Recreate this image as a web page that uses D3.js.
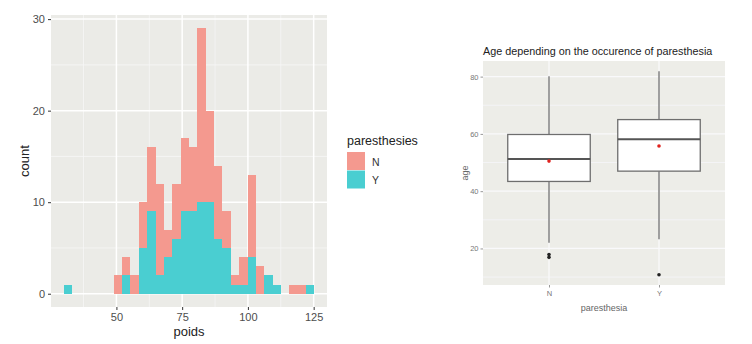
<!DOCTYPE html>
<html>
<head>
<meta charset="utf-8">
<script src="https://cdn.jsdelivr.net/npm/d3@7"></script>
<style>
  html, body { margin: 0; padding: 0; background: #ffffff; }
  svg { display: block; font-family: "Liberation Sans", Arial, sans-serif; }
</style>
</head>
<body>
<svg id="chart" width="752" height="344"></svg>
<script>
// ---------- Histogram data (poids, stacked by paresthesies) ----------
const binStart = 29.9;
const binWidth = 3.18;
const countsN = [0,0,0,0,0,0,2,2,2,5,7,10,3,6,8,7,19,10,8,4,1,3,9,3,0,0,0,1,1,0];
const countsY = [1,0,0,0,0,0,0,2,0,5,9,2,4,6,9,9,10,10,6,5,1,1,4,0,2,1,0,0,0,1];
const histXTicks = [50, 75, 100, 125];
const histYTicks = [0, 10, 20, 30];
const legendTitle = "paresthesies";
const seriesNames = ["N", "Y"];

// ---------- Boxplot data (age by paresthesia) ----------
const boxGroups = ["N", "Y"];
const boxQ1 = [43.4, 47.0];
const boxMedian = [51.2, 58.1];
const boxQ3 = [59.8, 65.0];
const whiskerLow = [22.0, 23.2];
const whiskerHigh = [80.1, 81.9];
const boxMean = [50.5, 55.8];
const outliersN = [17.9, 16.9];
const outliersY = [10.8];
const boxYTicks = [20, 40, 60, 80];
const boxTitle = "Age depending on the occurence of paresthesia";

const svg = d3.select("#chart");
const colN = "#F4998F", colY = "#4ACED1";
const panelBg = "#EBEBE7";

// ================= LEFT: histogram =================
(function(){
  const L = 51, R = 327, T = 15, B = 307;
  const edges = countsN.map((_, i) => binStart + i * binWidth);
  const xmin = binStart, xmax = binStart + countsN.length * binWidth;
  const xpad = (xmax - xmin) * 0.05;
  const totals = countsN.map((n, i) => n + countsY[i]);
  const ymax = d3.max(totals);
  const x = d3.scaleLinear().domain([xmin - xpad, xmax + xpad]).range([L, R]);
  const y = d3.scaleLinear().domain([-ymax * 0.05, ymax * 1.05]).range([B, T]);

  const g = svg.append("g");
  g.append("rect").attr("x", L).attr("y", T).attr("width", R - L).attr("height", B - T).attr("fill", panelBg);

  // minor grid
  const xMinor = histXTicks.slice(0, -1).map((t, i) => (t + histXTicks[i + 1]) / 2);
  xMinor.unshift(histXTicks[0] - 12.5);
  const yMinor = [5, 15, 25];
  g.selectAll(".xmin").data(xMinor.filter(v => x(v) > L && x(v) < R)).join("line")
    .attr("x1", d => x(d)).attr("x2", d => x(d)).attr("y1", T).attr("y2", B)
    .attr("stroke", "#F6F6F6").attr("stroke-width", 0.8);
  g.selectAll(".ymin").data(yMinor).join("line")
    .attr("x1", L).attr("x2", R).attr("y1", d => y(d)).attr("y2", d => y(d))
    .attr("stroke", "#F6F6F6").attr("stroke-width", 0.8);
  // major grid
  g.selectAll(".xmaj").data(histXTicks).join("line")
    .attr("x1", d => x(d)).attr("x2", d => x(d)).attr("y1", T).attr("y2", B)
    .attr("stroke", "#ffffff").attr("stroke-width", 1.5);
  g.selectAll(".ymaj").data(histYTicks).join("line")
    .attr("x1", L).attr("x2", R).attr("y1", d => y(d)).attr("y2", d => y(d))
    .attr("stroke", "#ffffff").attr("stroke-width", 1.5);

  // bars: Y bottom, N stacked on top
  g.selectAll(".barY").data(countsY.map((c, i) => ({c, i})).filter(d => d.c > 0)).join("rect")
    .attr("x", d => x(edges[d.i])).attr("width", d => x(edges[d.i] + binWidth) - x(edges[d.i]))
    .attr("y", d => y(d.c)).attr("height", d => y(0) - y(d.c))
    .attr("fill", colY).attr("shape-rendering", "crispEdges");
  g.selectAll(".barN").data(countsN.map((c, i) => ({c, i})).filter(d => d.c > 0)).join("rect")
    .attr("x", d => x(edges[d.i])).attr("width", d => x(edges[d.i] + binWidth) - x(edges[d.i]))
    .attr("y", d => y(countsY[d.i] + d.c)).attr("height", d => y(countsY[d.i]) - y(countsY[d.i] + d.c))
    .attr("fill", colN).attr("shape-rendering", "crispEdges");

  // axes
  const ax = g.append("g").attr("transform", `translate(0,${B})`)
    .call(d3.axisBottom(x).tickValues(histXTicks).tickSize(3).tickPadding(3));
  const ay = g.append("g").attr("transform", `translate(${L},0)`)
    .call(d3.axisLeft(y).tickValues(histYTicks).tickSize(3).tickPadding(3));
  [ax, ay].forEach(a => {
    a.select(".domain").remove();
    a.selectAll(".tick line").attr("stroke", "#333333");
    a.selectAll(".tick text").attr("fill", "#4D4D4D").style("font-size", "11px");
  });

  g.append("text").attr("x", (L + R) / 2).attr("y", 336).attr("text-anchor", "middle")
    .style("font-size", "13px").attr("fill", "#222").text("poids");
  g.append("text").attr("transform", `translate(29,${(T + B) / 2}) rotate(-90)`).attr("text-anchor", "middle")
    .style("font-size", "13px").attr("fill", "#222").text("count");

  // legend
  const lg = svg.append("g");
  lg.append("text").attr("x", 347).attr("y", 145).style("font-size", "12.5px").attr("fill", "#222").text(legendTitle);
  const cols = [colN, colY];
  seriesNames.forEach((s, i) => {
    lg.append("rect").attr("x", 347).attr("y", 152 + i * 18.5).attr("width", 18).attr("height", 18)
      .attr("fill", cols[i]);
    lg.append("text").attr("x", 372).attr("y", 165.5 + i * 18.5).style("font-size", "10.5px")
      .attr("fill", "#333").text(s);
  });
})();

// ================= RIGHT: boxplot =================
(function(){
  const L = 483, R = 725, T = 61, B = 285;
  const allVals = whiskerLow.concat(whiskerHigh, outliersN, outliersY);
  const vmin = d3.min(allVals), vmax = d3.max(allVals);
  const pad = (vmax - vmin) * 0.05;
  const y = d3.scaleLinear().domain([vmin - pad, vmax + pad]).range([B, T]);
  const xPos = d3.scalePoint().domain(boxGroups).range([L, R]).padding(0.6 / 1.1 * 1.1);
  // ggplot discrete: positions 1..n with 0.6 expansion
  const x = d3.scaleLinear().domain([0.4, boxGroups.length + 0.6]).range([L, R]);
  const cx = g => x(boxGroups.indexOf(g) + 1);
  const bw = (x(1.375) - x(0.625));

  const g = svg.append("g");
  g.append("rect").attr("x", L).attr("y", T).attr("width", R - L).attr("height", B - T).attr("fill", "#EDEDE8");

  const yMinor = [10, 30, 50, 70];
  g.selectAll(".ymin").data(yMinor).join("line")
    .attr("x1", L).attr("x2", R).attr("y1", d => y(d)).attr("y2", d => y(d))
    .attr("stroke", "#F4F4F6").attr("stroke-width", 1);
  g.selectAll(".ymaj").data(boxYTicks).join("line")
    .attr("x1", L).attr("x2", R).attr("y1", d => y(d)).attr("y2", d => y(d))
    .attr("stroke", "#F9F9FB").attr("stroke-width", 1.3);
  g.selectAll(".xmaj").data(boxGroups).join("line")
    .attr("x1", d => cx(d)).attr("x2", d => cx(d)).attr("y1", T).attr("y2", B)
    .attr("stroke", "#F9F9FB").attr("stroke-width", 1.3);

  boxGroups.forEach((grp, i) => {
    const c = cx(grp);
    g.append("line").attr("x1", c).attr("x2", c).attr("y1", y(whiskerHigh[i])).attr("y2", y(boxQ3[i]))
      .attr("stroke", "#7A7A7A").attr("stroke-width", 1.4);
    g.append("line").attr("x1", c).attr("x2", c).attr("y1", y(boxQ1[i])).attr("y2", y(whiskerLow[i]))
      .attr("stroke", "#7A7A7A").attr("stroke-width", 1.4);
    g.append("rect").attr("x", c - bw / 2).attr("y", y(boxQ3[i])).attr("width", bw)
      .attr("height", y(boxQ1[i]) - y(boxQ3[i])).attr("fill", "#ffffff")
      .attr("stroke", "#6E6E6E").attr("stroke-width", 1.3);
    g.append("line").attr("x1", c - bw / 2).attr("x2", c + bw / 2).attr("y1", y(boxMedian[i])).attr("y2", y(boxMedian[i]))
      .attr("stroke", "#555555").attr("stroke-width", 2);
    g.append("circle").attr("cx", c).attr("cy", y(boxMean[i])).attr("r", 1.8).attr("fill", "#E0221E");
  });
  const outs = [outliersN, outliersY];
  outs.forEach((arr, i) => {
    g.selectAll(".out" + i).data(arr).join("circle")
      .attr("cx", cx(boxGroups[i])).attr("cy", d => y(d)).attr("r", 1.8).attr("fill", "#222");
  });

  const ay = g.append("g").attr("transform", `translate(${L},0)`)
    .call(d3.axisLeft(y).tickValues(boxYTicks).tickSize(2.5).tickPadding(2));
  const ax = g.append("g").attr("transform", `translate(0,${B})`)
    .call(d3.axisBottom(x).tickValues([1, 2]).tickFormat(d => boxGroups[d - 1]).tickSize(2.5).tickPadding(3));
  [ax, ay].forEach(a => {
    a.select(".domain").remove();
    a.selectAll(".tick line").attr("stroke", "#999");
    a.selectAll(".tick text").attr("fill", "#777").style("font-size", "7.5px");
  });

  g.append("text").attr("x", L).attr("y", 55).style("font-size", "10.8px").attr("fill", "#222").text(boxTitle);
  g.append("text").attr("x", (L + R) / 2).attr("y", 311).attr("text-anchor", "middle")
    .style("font-size", "9px").attr("fill", "#666").text("paresthesia");
  g.append("text").attr("transform", `translate(468,${(T + B) / 2}) rotate(-90)`).attr("text-anchor", "middle")
    .style("font-size", "9px").attr("fill", "#666").text("age");
})();
</script>
</body>
</html>
